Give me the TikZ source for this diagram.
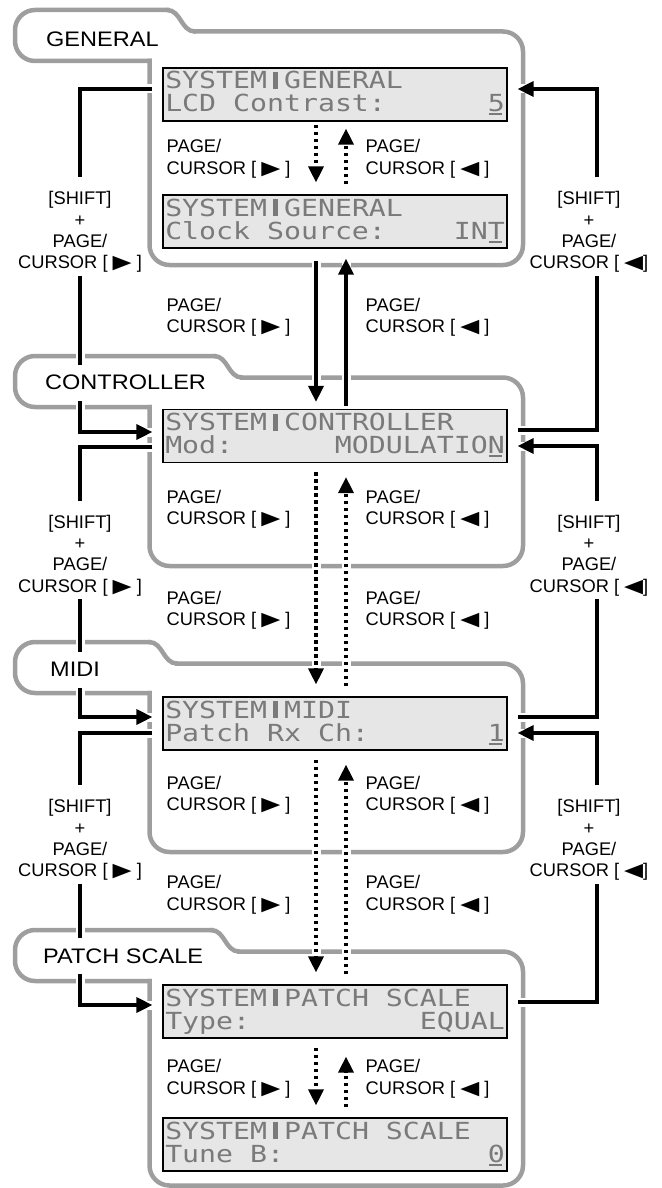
\documentclass[tikz,border=0pt]{standalone}
\usepackage{fontspec}
\setmainfont{Liberation Sans}
\newfontfamily\tabfont{Liberation Sans}[FakeStretch=1.12]
\newfontfamily\lcdfont{DejaVu Sans Mono}[FakeStretch=1.2]
\newfontfamily\symfont{DejaVu Sans}[FakeStretch=1.3]
\usetikzlibrary{arrows.meta,calc}
\definecolor{boxgray}{HTML}{9E9E9E}
\definecolor{lcdbg}{HTML}{E6E6E6}
\definecolor{lcdink}{HTML}{7A7A7A}
\newcommand\rtri{{\symfont\fontsize{19pt}{19pt}\selectfont ▶}}
\newcommand\ltri{{\symfont\fontsize{19pt}{19pt}\selectfont ◀}}
\newcommand\lcdsep{\makebox[16.98pt][c]{\rule{5.5pt}{17pt}}}
\newcommand\lcdcur[1]{\makebox[0pt][l]{\kern1.5pt\rule[-3.5pt]{12.5pt}{2pt}}#1}
\newcommand\lcdtext[2]{\parbox{339.5pt}{\lcdfont\fontsize{23.5pt}{23pt}\selectfont\lineskiplimit=-100pt\rule{0pt}{21pt}#1\\\makebox[339.5pt]{#2}\rule[-9pt]{0pt}{9pt}}}
\newcommand\secbox[3]{%
  \draw[sectline] (149.5,#1+51) -- (15,#1+51) -- (15,#1) -- (#2-14,#1);
  \draw[sectcurve] (#2-14,#1) .. controls (#2,#1) and (#2,#1+21.5) .. (#2+14,#1+21.5);
  \draw[sectline] (#2+14,#1+21.5) -- (523,#1+21.5) -- (523,#3) -- (149.5,#3) -- (149.5,#1+51);}
\tikzset{
  sectline/.style={draw=boxgray, line width=4.5pt, rounded corners=20pt, line cap=rect},
  sectcurve/.style={draw=boxgray, line width=4.5pt, line cap=round},
  tablabel/.style={anchor=west, fill=white, inner xsep=1pt, inner ysep=0pt, minimum height=36pt,
    font=\tabfont\fontsize{21pt}{24pt}\selectfont},
  lcd/.style={draw=black, line width=1.2pt, fill=lcdbg, minimum width=344pt, minimum height=53pt,
    inner sep=0pt, text=lcdink},
  pagelbl/.style={anchor=west, align=left, inner sep=0pt, font=\fontsize{18.3pt}{21.5pt}\selectfont},
  sidelbl/.style={align=center, inner sep=0pt, font=\fontsize{18.3pt}{21.3pt}\selectfont},
  conn/.style={line width=3.5pt, preaction={draw=white, line width=9pt, arrows=-, solid}},
  arr/.style={conn, -{Triangle[length=16pt, width=15pt]}},
  dotarr/.style={arr, dash pattern=on 3.5pt off 3.5pt}
}
\begin{document}
\begin{tikzpicture}[x=1pt, y=-1pt]
\useasboundingbox (0,0) rectangle (661,1188);

% grey section frames
\secbox{10}{181}{265}
\secbox{356}{228}{566}
\secbox{642}{163}{852}
\secbox{930}{225}{1185.5}

% LCD screens
\node[lcd] (g1) at (335,94.5) {\lcdtext{SYSTEM\lcdsep GENERAL}{LCD Contrast:\hfill\lcdcur{5}}};
\node[lcd] (g2) at (335,221.5) {\lcdtext{SYSTEM\lcdsep GENERAL}{Clock Source:\hfill IN\lcdcur{T}}};
\node[lcd] (c) at (335,436) {\lcdtext{SYSTEM\lcdsep CONTROLLER}{Mod:\hfill MODULATIO\lcdcur{N}}};
\node[lcd] (m) at (335,723.5) {\lcdtext{SYSTEM\lcdsep MIDI}{Patch Rx Ch:\hfill\lcdcur{1}}};
\node[lcd] (p1) at (335,1011.5) {\lcdtext{SYSTEM\lcdsep PATCH SCALE}{Type:\hfill EQUAL}};
\node[lcd] (p2) at (335,1144.5) {\lcdtext{SYSTEM\lcdsep PATCH SCALE}{Tune B:\hfill\lcdcur{0}}};

% PAGE/CURSOR labels
\node[pagelbl] (lg) at (166.5,159) {PAGE/\\CURSOR [ \rtri{} ]};
\node[pagelbl] (rg) at (365.5,159) {PAGE/\\CURSOR [ \ltri{} ]};
\node[pagelbl] (lgc) at (166.5,317.5) {PAGE/\\CURSOR [ \rtri{} ]};
\node[pagelbl] (rgc) at (365.5,317.5) {PAGE/\\CURSOR [ \ltri{} ]};
\node[pagelbl] (lc) at (166.5,509.5) {PAGE/\\CURSOR [ \rtri{} ]};
\node[pagelbl] (rc) at (365.5,509.5) {PAGE/\\CURSOR [ \ltri{} ]};
\node[pagelbl] (lcm) at (166.5,610.5) {PAGE/\\CURSOR [ \rtri{} ]};
\node[pagelbl] (rcm) at (365.5,610.5) {PAGE/\\CURSOR [ \ltri{} ]};
\node[pagelbl] (lm) at (166.5,795.5) {PAGE/\\CURSOR [ \rtri{} ]};
\node[pagelbl] (rm) at (365.5,795.5) {PAGE/\\CURSOR [ \ltri{} ]};
\node[pagelbl] (lmp) at (166.5,895) {PAGE/\\CURSOR [ \rtri{} ]};
\node[pagelbl] (rmp) at (365.5,895) {PAGE/\\CURSOR [ \ltri{} ]};
\node[pagelbl] (lp) at (166.5,1079) {PAGE/\\CURSOR [ \rtri{} ]};
\node[pagelbl] (rp) at (365.5,1079) {PAGE/\\CURSOR [ \ltri{} ]};

% SHIFT labels
\node[sidelbl] (sl1) at (80,232) {[SHIFT]\\+\\PAGE/\\CURSOR [ \rtri{} ]};
\node[sidelbl] (sr1) at (589,232) {[SHIFT]\\+\\PAGE/\\CURSOR [ \ltri{}]};
\node[sidelbl] (sl2) at (80,555.5) {[SHIFT]\\+\\PAGE/\\CURSOR [ \rtri{} ]};
\node[sidelbl] (sr2) at (589,555.5) {[SHIFT]\\+\\PAGE/\\CURSOR [ \ltri{}]};
\node[sidelbl] (sl3) at (80,840) {[SHIFT]\\+\\PAGE/\\CURSOR [ \rtri{} ]};
\node[sidelbl] (sr3) at (589,840) {[SHIFT]\\+\\PAGE/\\CURSOR [ \ltri{}]};

% SHIFT connectors, left
\draw[conn] ($(g1.west)+(-10,-5.5)$) -| ($(sl1.north)+(0,-14)$);
\draw[arr] ($(sl1.south)+(0,3)$) |- ($(c.west)+(-10,-4)$);
\draw[conn] ($(c.west)+(-10,11)$) -| ($(sl2.north)+(0,-14)$);
\draw[arr] ($(sl2.south)+(0,3)$) |- ($(m.west)+(-10,-6.5)$);
\draw[conn] ($(m.west)+(-10,9.5)$) -| ($(sl3.north)+(0,-14)$);
\draw[arr] ($(sl3.south)+(0,3)$) |- ($(p1.west)+(-10,-6.5)$);

% SHIFT connectors, right
\draw[conn] ($(c.east)+(10,-6)$) -| ($(sr1.south)+(8,3)$);
\draw[arr] ($(sr1.north)+(8,-14)$) |- ($(g1.east)+(10,-5.5)$);
\draw[conn] ($(m.east)+(10,-6.5)$) -| ($(sr2.south)+(8,3)$);
\draw[arr] ($(sr2.north)+(8,-14)$) |- ($(c.east)+(10,10)$);
\draw[conn] ($(p1.east)+(10,-9.5)$) -| ($(sr3.south)+(8,3)$);
\draw[arr] ($(sr3.north)+(8,-14)$) |- ($(m.east)+(10,9.5)$);

% PAGE/CURSOR connectors
\draw[dotarr] ($(g1.south)+(-19,3)$) -- ($(g2.north)+(-19,-12)$);
\draw[dotarr] ($(g2.north)+(11,-10)$) -- ($(g1.south)+(11,7)$);
\draw[arr] ($(g2.south)+(-19,12)$) -- ($(c.north)+(-19,-7)$);
\draw[arr] ($(c.north)+(11,-3)$) -- ($(g2.south)+(11,10)$);
\draw[dotarr] ($(c.south)+(-19,9)$) -- ($(m.north)+(-19,-12)$);
\draw[dotarr] ($(m.north)+(11,-10)$) -- ($(c.south)+(11,14)$);
\draw[dotarr] ($(m.south)+(-19,9)$) -- ($(p1.north)+(-19,-12)$);
\draw[dotarr] ($(p1.north)+(11,-10)$) -- ($(m.south)+(11,14)$);
\draw[dotarr] ($(p1.south)+(-19,9)$) -- ($(p2.north)+(-19,-12)$);
\draw[dotarr] ($(p2.north)+(11,-10)$) -- ($(p1.south)+(11,18)$);

% section tab titles
\node[tablabel] (tg) at (45,39.5) {GENERAL};
\node[tablabel] (tc) at (44,382.5) {CONTROLLER};
\node[tablabel] (tm) at (49,669.5) {MIDI};
\node[tablabel] (tp) at (42,956) {PATCH SCALE};
\end{tikzpicture}
\end{document}
